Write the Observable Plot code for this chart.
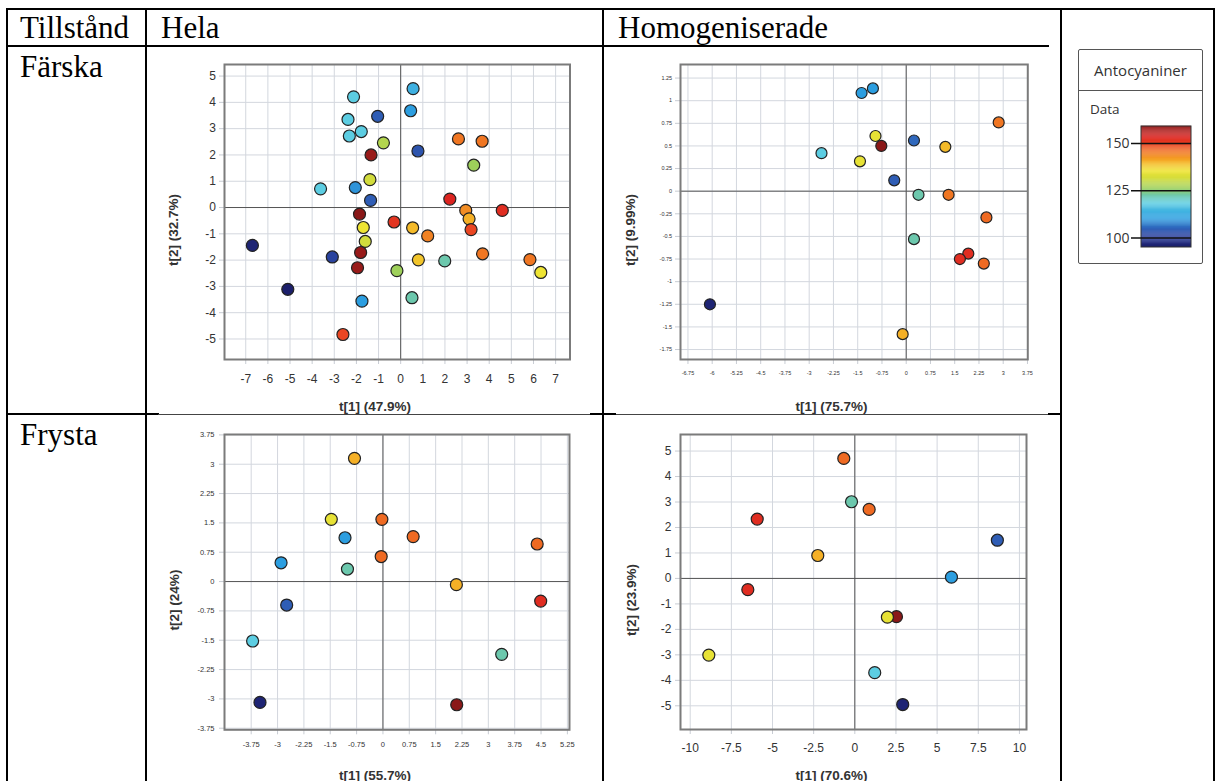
<!DOCTYPE html>
<html><head><meta charset="utf-8">
<script src="https://cdn.jsdelivr.net/npm/d3@7"></script>
<script src="https://cdn.jsdelivr.net/npm/@observablehq/plot@0.6"></script>
<style>
body{margin:0;background:#fff;width:1217px;height:781px;overflow:hidden;position:relative;font-family:"Liberation Serif","Times New Roman",serif;}
.ln{position:absolute;background:#000;}
.hd{position:absolute;font-size:31px;line-height:1;color:#000;white-space:nowrap;}
.at{position:absolute;font-family:"Liberation Sans",Arial,sans-serif;font-weight:bold;font-size:13.5px;color:#333;white-space:nowrap;transform:translate(-50%,-50%);}
.atv{transform:translate(-50%,-50%) rotate(-90deg);}
.lg{position:absolute;left:1078px;top:49px;width:125px;height:215px;border:1.5px solid #555;border-radius:2px;box-sizing:border-box;font-family:"Open Sans",sans-serif;color:#333;}
</style></head><body>
<script>
// ---------- data ----------
const rowLabels = ["Färska", "Frysta"];
const colLabels = ["Tillstånd", "Hela", "Homogeniserade"];
const legendTitle = "Antocyaniner";
const legendSub = "Data";
const legendTicks = [100, 125, 150];
const legendRange = [95, 159];

const colorStops = [95, 100, 104, 110, 118, 122, 126, 131, 135, 140, 145, 149, 153, 159];
const colorHex = ["#1c1f6b", "#283a96", "#2f5db5", "#2c9ee0", "#5ccde2", "#6cc8ad", "#9ed05a", "#d2dc3c", "#eee433", "#f5b026", "#f07622", "#ea4622", "#dc2420", "#8a1818"];

// Hela / Färska
const hfX = [0.56,-2.13,-1.04,0.45,-2.38,-1.78,-2.32,-0.78,-1.34,0.78,2.61,3.68,3.30,-1.39,-3.62,-2.05,-1.36,2.22,2.94,4.59,-1.86,-0.30,-1.69,3.09,3.18,0.54,1.22,-1.60,-6.70,-3.09,-1.81,3.70,-1.95,0.80,1.99,-0.17,5.84,6.33,-5.10,-1.75,0.51,-2.61];
const hfY = [4.52,4.21,3.47,3.68,3.35,2.89,2.72,2.46,2.00,2.15,2.61,2.52,1.61,1.06,0.71,0.76,0.27,0.32,-0.11,-0.11,-0.25,-0.55,-0.76,-0.43,-0.84,-0.77,-1.08,-1.29,-1.44,-1.88,-1.71,-1.76,-2.29,-1.99,-2.03,-2.40,-1.98,-2.47,-3.11,-3.56,-3.43,-4.83];
const hfV = [113,118,104,110,118,118,118,128,158,103,145,145,126,131,118,109,104,153,143,152,159,151,135,140,149,139,144,131,96,101,158,145,158,138,122,126,145,135,95,110,122,149];
const hfXTicks = [-7,-6,-5,-4,-3,-2,-1,0,1,2,3,4,5,6,7];
const hfYTicks = [-5,-4,-3,-2,-1,0,1,2,3,4,5];

// Homogeniserade / Färska
const mfX = [-1.38,-1.03,2.86,-0.95,-0.77,0.24,1.21,-2.62,-1.43,-0.37,0.38,1.31,2.48,0.24,1.92,1.66,2.40,-6.07,-0.11];
const mfY = [1.085,1.136,0.76,0.61,0.50,0.56,0.49,0.42,0.33,0.12,-0.04,-0.04,-0.29,-0.53,-0.69,-0.75,-0.80,-1.25,-1.58];
const mfV = [110,110,145,134,159,105,139,118,134,104,122,145,146,122,152,152,146,96,140];
const mfXTicks = [-6.75,-6,-5.25,-4.5,-3.75,-3,-2.25,-1.5,-0.75,0,0.75,1.5,2.25,3,3.75];
const mfYTicks = [-1.75,-1.5,-1.25,-1,-0.75,-0.5,-0.25,0,0.25,0.5,0.75,1,1.25];

// Hela / Frysta
const hzX = [-0.81,-1.47,-0.03,-1.08,0.86,4.39,-2.90,-0.05,-1.01,2.09,-2.74,4.49,-3.71,3.38,-3.50,2.10];
const hzY = [3.15,1.59,1.59,1.12,1.15,0.96,0.48,0.64,0.32,-0.08,-0.60,-0.50,-1.52,-1.86,-3.09,-3.15];
const hzV = [140,134,146,110,146,146,110,146,122,140,104,152,118,122,96,159];
const hzXTicks = [-3.75,-3,-2.25,-1.5,-0.75,0,0.75,1.5,2.25,3,3.75,4.5,5.25];
const hzYTicks = [-3.75,-3,-2.25,-1.5,-0.75,0,0.75,1.5,2.25,3,3.75];

// Homogeniserade / Frysta
const mzX = [-0.67,-0.20,0.87,-5.93,8.66,-2.25,5.87,-6.50,2.53,1.98,-8.87,1.21,2.91];
const mzY = [4.71,3.01,2.71,2.33,1.50,0.90,0.05,-0.44,-1.50,-1.52,-3.01,-3.70,-4.95];
const mzV = [146,122,146,152,104,140,110,152,159,134,134,118,96];
const mzXTicks = [-10,-7.5,-5,-2.5,0,2.5,5,7.5,10];
const mzYTicks = [-5,-4,-3,-2,-1,0,1,2,3,4,5];

const axisTitles = {
  hf: ["t[1] (47.9%)", "t[2] (32.7%)"],
  mf: ["t[1] (75.7%)", "t[2] (9.99%)"],
  hz: ["t[1] (55.7%)", "t[2] (24%)"],
  mz: ["t[1] (70.6%)", "t[2] (23.9%)"]
};

// ---------- helpers ----------
const colorScale = {type: "linear", domain: colorStops, range: colorHex, interpolate: "rgb"};

function line(l, t, w, h, color) {
  const d = document.createElement("div");
  d.className = "ln";
  Object.assign(d.style, {left: l + "px", top: t + "px", width: w + "px", height: h + "px"});
  if (color) d.style.background = color;
  document.body.appendChild(d);
}
function text(cls, str, l, t) {
  const d = document.createElement("div");
  d.className = cls;
  d.textContent = str;
  d.style.left = l + "px"; d.style.top = t + "px";
  document.body.appendChild(d);
  return d;
}

function panel(cfg) {
  const [fx0, fx1, fy0, fy1] = cfg.frame;
  const left = fx0 - 80, top = fy0 - 16, right = fx1 + 20, bottom = fy1 + 40;
  const data = cfg.x.map((x, i) => ({x, y: cfg.y[i], v: cfg.v[i]}));
  const chart = Plot.plot({
    width: right - left, height: bottom - top,
    marginLeft: fx0 - left, marginRight: right - fx1, marginTop: fy0 - top, marginBottom: bottom - fy1,
    style: {background: "transparent", overflow: "visible", fontFamily: "'Liberation Sans', Arial, sans-serif"},
    x: {domain: cfg.xDomain, axis: null},
    y: {domain: cfg.yDomain, axis: null},
    color: colorScale,
    marks: [
      Plot.gridX(cfg.xTicks, {stroke: "#d3d7de", strokeOpacity: 1}),
      Plot.gridY(cfg.yTicks, {stroke: "#d3d7de", strokeOpacity: 1}),
      Plot.ruleX([0], {stroke: "#555"}),
      Plot.ruleY([0], {stroke: "#555"}),
      Plot.axisX(cfg.xTicks, {anchor: "bottom", tickSize: 5, tickPadding: cfg.xPad, tickFormat: d => String(d), fontSize: cfg.fs, stroke: "#c8ccd3", fill: "#333", label: null}),
      Plot.axisY(cfg.yTicks, {anchor: "left", tickSize: 5, tickPadding: cfg.yPad, tickFormat: d => String(d), fontSize: cfg.fs, stroke: "#c8ccd3", fill: "#333", label: null}),
      Plot.frame({stroke: "#7b7b7b", strokeWidth: 2}),
      Plot.dot(data, {x: "x", y: "y", fill: "v", stroke: "#222", strokeWidth: 1.2, r: cfg.r})
    ]
  });
  chart.style.position = "absolute";
  chart.style.left = left + "px";
  chart.style.top = top + "px";
  document.body.appendChild(chart);
  text("at", cfg.titles[0], cfg.xt[0], cfg.xt[1]);
  text("at atv", cfg.titles[1], cfg.yt[0], cfg.yt[1]);
}

// ---------- table ----------
line(5.5, 7.8, 1209, 2.5);            // top
[5.5, 144.5, 601.8, 1059.8, 1212.5].forEach(x => line(x, 7.8, 2.5, 780));
line(5.5, 44.5, 1043, 2.5);            // header bottom
line(5.5, 412.5, 153, 2.5);
line(590, 412.5, 26, 2.5);
line(1048, 412.5, 13, 2.5);
line(158, 413.5, 432, 1.5, "#444");
line(616, 413.5, 432, 1.5, "#444");

text("hd", colLabels[0], 20, 12);
text("hd", colLabels[1], 161, 12);
text("hd", colLabels[2], 618, 12);
text("hd", rowLabels[0], 20, 50.5);
text("hd", rowLabels[1], 20, 419);

// ---------- panels ----------
panel({frame: [223.5, 569, 64, 359], xDomain: [-7.96, 7.65], yDomain: [-5.78, 5.44],
  x: hfX, y: hfY, v: hfV, xTicks: hfXTicks, yTicks: hfYTicks, fs: 12, xPad: 9.5, yPad: 3.5, r: 6,
  titles: axisTitles.hf, xt: [375, 406], yt: [173, 230]});
panel({frame: [679.7, 1027, 64, 359], xDomain: [-6.98, 3.76], yDomain: [-1.86, 1.40],
  x: mfX, y: mfY, v: mfV, xTicks: mfXTicks, yTicks: mfYTicks, fs: 5.5, xPad: 7, yPad: 3.4, r: 5.5,
  titles: axisTitles.mf, xt: [831.5, 406], yt: [630, 230]});
panel({frame: [224, 569, 433.7, 729], xDomain: [-4.51, 5.31], yDomain: [-3.79, 3.76],
  x: hzX, y: hzY, v: hzV, xTicks: hzXTicks, yTicks: hzYTicks, fs: 7.5, xPad: 7, yPad: 5, r: 6,
  titles: axisTitles.hz, xt: [375, 775], yt: [174, 600]});
panel({frame: [680, 1026, 434, 729], xDomain: [-10.59, 10.43], yDomain: [-5.93, 5.65],
  x: mzX, y: mzY, v: mzV, xTicks: mzXTicks, yTicks: mzYTicks, fs: 12, xPad: 8.8, yPad: 4, r: 6,
  titles: axisTitles.mz, xt: [831.5, 775], yt: [631, 600]});

// ---------- legend ----------
const lg = document.createElement("div");
lg.className = "lg";
lg.innerHTML = `<div style="position:absolute;left:0;right:0;top:0;height:40px;border-bottom:1.5px solid #555;display:flex;align-items:center;justify-content:center;font-size:15px;">${legendTitle}</div>
<div style="position:absolute;left:11px;top:50px;font-size:13.5px;">${legendSub}</div>`;
document.body.appendChild(lg);

const ramp = d3.range(legendRange[0], legendRange[1], 0.5);
const legendChart = Plot.plot({
  width: 120, height: 137, marginLeft: 51, marginRight: 9, marginTop: 8, marginBottom: 8,
  style: {background: "transparent", overflow: "visible", fontFamily: "'Open Sans', sans-serif"},
  x: {domain: [-0.2, 1], axis: null},
  y: {domain: legendRange, axis: null},
  color: colorScale,
  marks: [
    Plot.rect(ramp, {x1: 0, x2: 1, y1: d => d, y2: d => d + 0.6, fill: d => d}),
    Plot.rect([0], {x1: 0, x2: 1, y1: legendRange[0], y2: legendRange[1], stroke: "#333", fill: "none"}),
    Plot.ruleY(legendTicks, {x1: -0.2, x2: 1, stroke: "#111", strokeWidth: 1.5}),
    Plot.axisY(legendTicks, {anchor: "left", tickSize: 0, tickPadding: 2, fontSize: 14, fill: "#333", label: null})
  ]
});
legendChart.style.position = "absolute";
legendChart.style.left = "1080px";
legendChart.style.top = "118px";
document.body.appendChild(legendChart);
</script>
</body></html>
